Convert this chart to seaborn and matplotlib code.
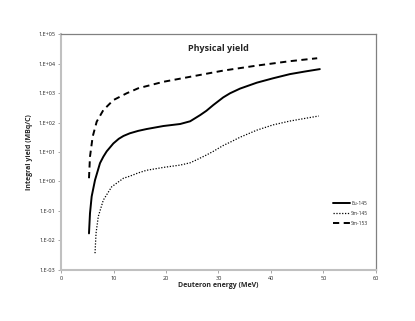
import numpy as np
import pandas as pd
import matplotlib
matplotlib.use("Agg")
import matplotlib.pyplot as plt
import seaborn as sns

# Data
eu145_E = [5.33, 5.52, 5.84, 6.48, 7.43, 8.06, 8.7, 9.97, 11.0, 11.9, 13.1, 14.7, 16.3, 19.5, 22.7,
           24.6, 26.5, 27.7, 29.0, 30.9, 32.2, 34.1, 37.3, 40.4, 43.6, 46.5, 49.3]
eu145_Y = [0.0174, 0.083, 0.31, 1.12, 4.2, 6.9, 10.5, 19.5, 28, 35, 43, 52, 60, 76, 89,
           110, 178, 250, 390, 710, 980, 1410, 2240, 3160, 4370, 5370, 6460]

sm145_E = [6.48, 6.67, 7.1, 8.06, 9.65, 11.9, 13.1, 14.7, 16.3, 19.5, 22.7, 24.6, 25.8,
           27.7, 29.0, 30.9, 32.2, 34.1, 37.3, 40.4, 43.6, 46.5, 49.1]
sm145_Y = [0.0037, 0.0174, 0.065, 0.234, 0.66, 1.29, 1.51, 1.95, 2.4, 3.0, 3.6, 4.3, 5.4,
           7.9, 10.5, 16.6, 21.4, 31.6, 55, 83, 112, 138, 166]

sm153_E = [5.33, 5.52, 6.03, 6.8, 8.06, 9.97, 12.5, 14.7, 19.5, 24.6, 30.9, 37.3, 43.6, 48.8]
sm153_Y = [1.29, 6.9, 33, 107, 263, 575, 977, 1445, 2400, 3550, 5750, 8510, 12000, 15100]

series_names = ["Eu-145", "Sm-145", "Sm-153"]

ytick_vals = [1e-3, 1e-2, 1e-1, 1e0, 1e1, 1e2, 1e3, 1e4, 1e5]
ytick_labels = ["1.E-03", "1.E-02", "1.E-01", "1.E+00", "1.E+01", "1.E+02", "1.E+03", "1.E+04", "1.E+05"]
xtick_vals = [0, 10, 20, 30, 40, 50, 60]

df = pd.concat([
    pd.DataFrame({"E": eu145_E, "Y": eu145_Y, "Isotope": series_names[0]}),
    pd.DataFrame({"E": sm145_E, "Y": sm145_Y, "Isotope": series_names[1]}),
    pd.DataFrame({"E": sm153_E, "Y": sm153_Y, "Isotope": series_names[2]}),
])

sns.set_style("white")
plt.rcParams["font.family"] = ["Open Sans", "DejaVu Sans"]

fig = plt.figure(figsize=(4.15, 3.21), dpi=100)
ax = fig.add_axes([0.147, 0.159, 0.759, 0.735])

styles = {"Eu-145": (1.4, "-"), "Sm-145": (0.9, (0, (1, 1.3))), "Sm-153": (1.4, (0, (3.2, 2.3)))}
for name in series_names:
    sub = df[df["Isotope"] == name]
    lw, ls = styles[name]
    sns.lineplot(data=sub, x="E", y="Y", ax=ax, color="black", linewidth=lw,
                 linestyle=ls, label=name, sort=False, estimator=None)

ax.set_yscale("log")
ax.set_ylim(1e-3, 1e5)
ax.set_xlim(0, 60)
ax.set_yticks(ytick_vals)
ax.set_yticklabels(ytick_labels)
ax.yaxis.set_minor_locator(matplotlib.ticker.NullLocator())
ax.set_xticks(xtick_vals)
ax.tick_params(axis="both", labelsize=4, length=2, width=0.6, color="#999999", pad=2,
               direction="out", left=True, bottom=True)

for s in ["left", "bottom"]:
    ax.spines[s].set_color("#c0c0c0")
    ax.spines[s].set_linewidth(1.5)
for s in ["top", "right"]:
    ax.spines[s].set_color("#808080")
    ax.spines[s].set_linewidth(0.9)

ax.set_xlabel("Deuteron energy (MeV)", fontsize=5, fontweight="bold", labelpad=1)
ax.set_ylabel("Integral yield (MBq/C)", fontsize=5, fontweight="bold", labelpad=4)
ax.text(0.5, 0.94, "Physical yield", transform=ax.transAxes, ha="center", va="center",
        fontsize=6.5, fontweight="bold")

leg = ax.legend(loc="center left", bbox_to_anchor=(0.85, 0.24), frameon=False,
                fontsize=3.5, handlelength=3.4, handletextpad=0.3, labelspacing=1.0)

fig.savefig("out.png", dpi=100)
